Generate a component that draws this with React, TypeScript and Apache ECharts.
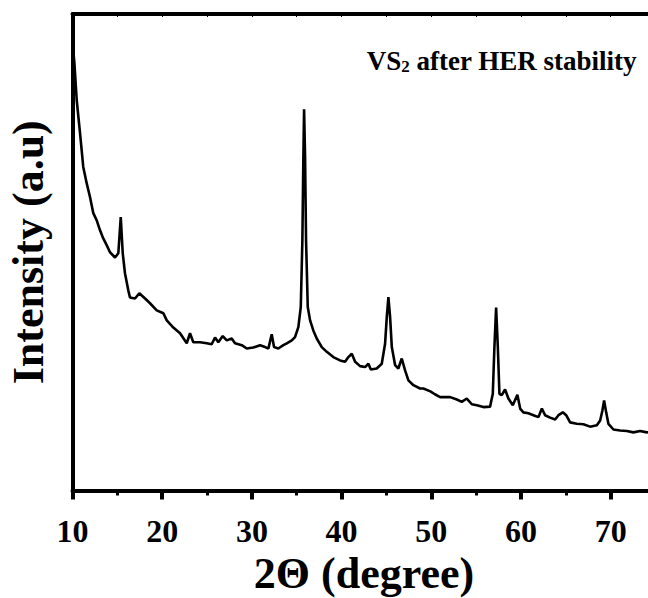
import React, { useEffect, useRef } from "react";
import * as echarts from "echarts";

const twoTheta: number[] = [
  10.0, 10.2, 10.47, 10.84, 11.2, 11.58, 11.95, 12.32, 12.7, 13.07, 13.43, 13.81, 14.18, 14.74, 15.11, 15.38, 15.6,
  15.85, 16.22, 16.41, 16.97, 17.45, 18.09, 18.64, 19.39, 20.13, 20.51, 21.24, 21.99, 22.74, 23.1, 23.47, 24.22,
  24.97, 25.52, 25.89, 26.26, 26.75, 27.2, 27.75, 28.12, 28.87, 29.43, 30.16, 30.91, 31.47, 31.84, 32.21, 32.47,
  32.95, 33.51, 33.89, 34.45, 34.81, 35.18, 35.45, 35.63, 35.74, 35.82, 35.93, 36.04, 36.23, 36.49, 36.85, 37.23,
  37.79, 38.35, 39.08, 39.83, 40.39, 40.76, 41.14, 41.51, 42.06, 42.62, 42.99, 43.26, 43.92, 44.48, 44.85, 45.04,
  45.22, 45.41, 45.6, 45.97, 46.33, 46.71, 47.08, 47.45, 48.01, 48.75, 49.12, 49.9, 50.4, 50.99, 52.11, 52.85,
  53.4, 53.96, 54.52, 55.08, 55.81, 56.56, 56.86, 57.04, 57.23, 57.42, 57.6, 57.86, 58.23, 58.6, 59.09, 59.6,
  59.91, 60.27, 60.83, 61.39, 61.95, 62.33, 62.69, 63.25, 63.81, 64.18, 64.67, 65.04, 65.48, 66.23, 66.96, 67.71,
  68.46, 68.83, 69.08, 69.27, 69.5, 69.75, 70.31, 71.05, 71.8, 72.54, 73.28, 74.03, 74.5, 75.0,
];

const intensity: number[] = [
  94, 90, 81.9, 75.0, 67.9, 64.5, 61.6, 58.2, 56.7, 54.6, 52.9, 51.5, 50.0, 48.9, 49.8, 57.4, 49.8,
  45.6, 42.0, 40.5, 40.3, 41.4, 40.3, 39.3, 37.8, 37.2, 35.7, 34.2, 33.0, 30.9, 33.0, 31.1, 31.1,
  30.9, 30.7, 32.1, 31.1, 32.4, 31.5, 31.9, 30.9, 30.5, 29.8, 30.0, 30.5, 30.1, 29.8, 32.8, 30.1,
  29.8, 30.5, 30.9, 31.5, 32.2, 34.3, 38.5, 52.5, 70.0, 80.0, 70.0, 52.5, 38.5, 35.7, 33.6, 31.9,
  30.1, 29.1, 28.0, 27.3, 27.0, 28.0, 28.7, 27.0, 26.1, 25.9, 26.6, 25.4, 25.6, 26.6, 30.8, 36.4,
  40.6, 36.4, 30.1, 26.3, 25.6, 27.7, 25.2, 23.1, 22.1, 21.4, 21.4, 20.8, 20.2, 19.6, 19.6, 19.1,
  18.6, 19.3, 18.1, 17.9, 17.5, 17.6, 20.3, 30.1, 38.4, 30.1, 20.3, 20.0, 21.2, 19.3, 17.9, 20.1,
  17.2, 16.4, 16.2, 15.8, 15.4, 17.2, 15.8, 15.3, 14.9, 15.8, 16.4, 15.8, 14.3, 14.0, 13.9, 13.4,
  13.7, 14.7, 16.8, 18.9, 16.4, 14.0, 12.8, 12.6, 12.5, 12.2, 12.5, 12.2, 12.3, 12.2,
];

const xTitle = "2\u0398 (degree)";
const yTitle = "Intensity (a.u)";
const noteMain = "VS";
const noteSub = "2";
const noteRest = " after HER stability";

const FONT = "'Liberation Serif', 'Times New Roman', serif";

export default function App() {
  const ref = useRef<HTMLDivElement>(null);
  useEffect(() => {
    if (!ref.current) return;
    const chart = echarts.init(ref.current, undefined, { renderer: "svg" });
    const data = twoTheta.map((x, i) => [x, intensity[i]]);
    chart.setOption({
      animation: false,
      backgroundColor: "#ffffff",
      grid: { left: 72.5, right: -7.5, top: 14, bottom: 107.5, outerBoundsMode: "none", containLabel: false },
      xAxis: [
        {
          type: "value",
          min: 10,
          max: 75,
          interval: 10,
          position: "bottom",
          name: xTitle,
          nameLocation: "middle",
          nameGap: 60,
          nameTextStyle: { fontFamily: FONT, fontWeight: "bold", fontSize: 44, color: "#000" },
          axisLine: { show: true, lineStyle: { color: "#000", width: 4 } },
          axisTick: { show: true, inside: false, length: 9, lineStyle: { color: "#000", width: 4 } },
          minorTick: { show: true, splitNumber: 2, length: 5, lineStyle: { color: "#000", width: 3 } },
          axisLabel: { fontFamily: FONT, fontWeight: "bold", fontSize: 32, color: "#000", margin: 24, showMaxLabel: false },
          splitLine: { show: false },
        },
        {
          type: "value",
          min: 10,
          max: 75,
          interval: 5,
          position: "top",
          axisLine: { show: true, lineStyle: { color: "#000", width: 4 } },
          axisTick: { show: true, inside: true, length: 3, lineStyle: { color: "#000", width: 1 } },
          axisLabel: { show: false },
          splitLine: { show: false },
        },
      ],
      yAxis: {
        type: "value",
        min: 0,
        max: 100,
        name: yTitle,
        nameLocation: "middle",
        nameGap: 22,
        nameTextStyle: { fontFamily: FONT, fontWeight: "bold", fontSize: 44, color: "#000" },
        axisLine: { show: true, lineStyle: { color: "#000", width: 4 } },
        axisTick: { show: false },
        axisLabel: { show: false },
        splitLine: { show: false },
      },
      graphic: [
        {
          type: "text",
          right: 11,
          top: 47,
          style: {
            text: `{m|${noteMain}}{s|${noteSub}}{m|${noteRest}}`,
            rich: {
              m: { fontFamily: FONT, fontWeight: "bold", fontSize: 27, fill: "#000" },
              s: { fontFamily: FONT, fontWeight: "bold", fontSize: 17, fill: "#000", padding: [12, 0, 0, 0] },
            },
          },
        },
      ],
      series: [
        {
          type: "line",
          data,
          showSymbol: false,
          symbol: "none",
          lineStyle: { color: "#000", width: 2.6 },
          smooth: false,
        },
      ],
    });
    return () => chart.dispose();
  }, []);
  return <div ref={ref} style={{ width: 648, height: 598, position: "fixed", left: 0, top: 0 }} />;
}
